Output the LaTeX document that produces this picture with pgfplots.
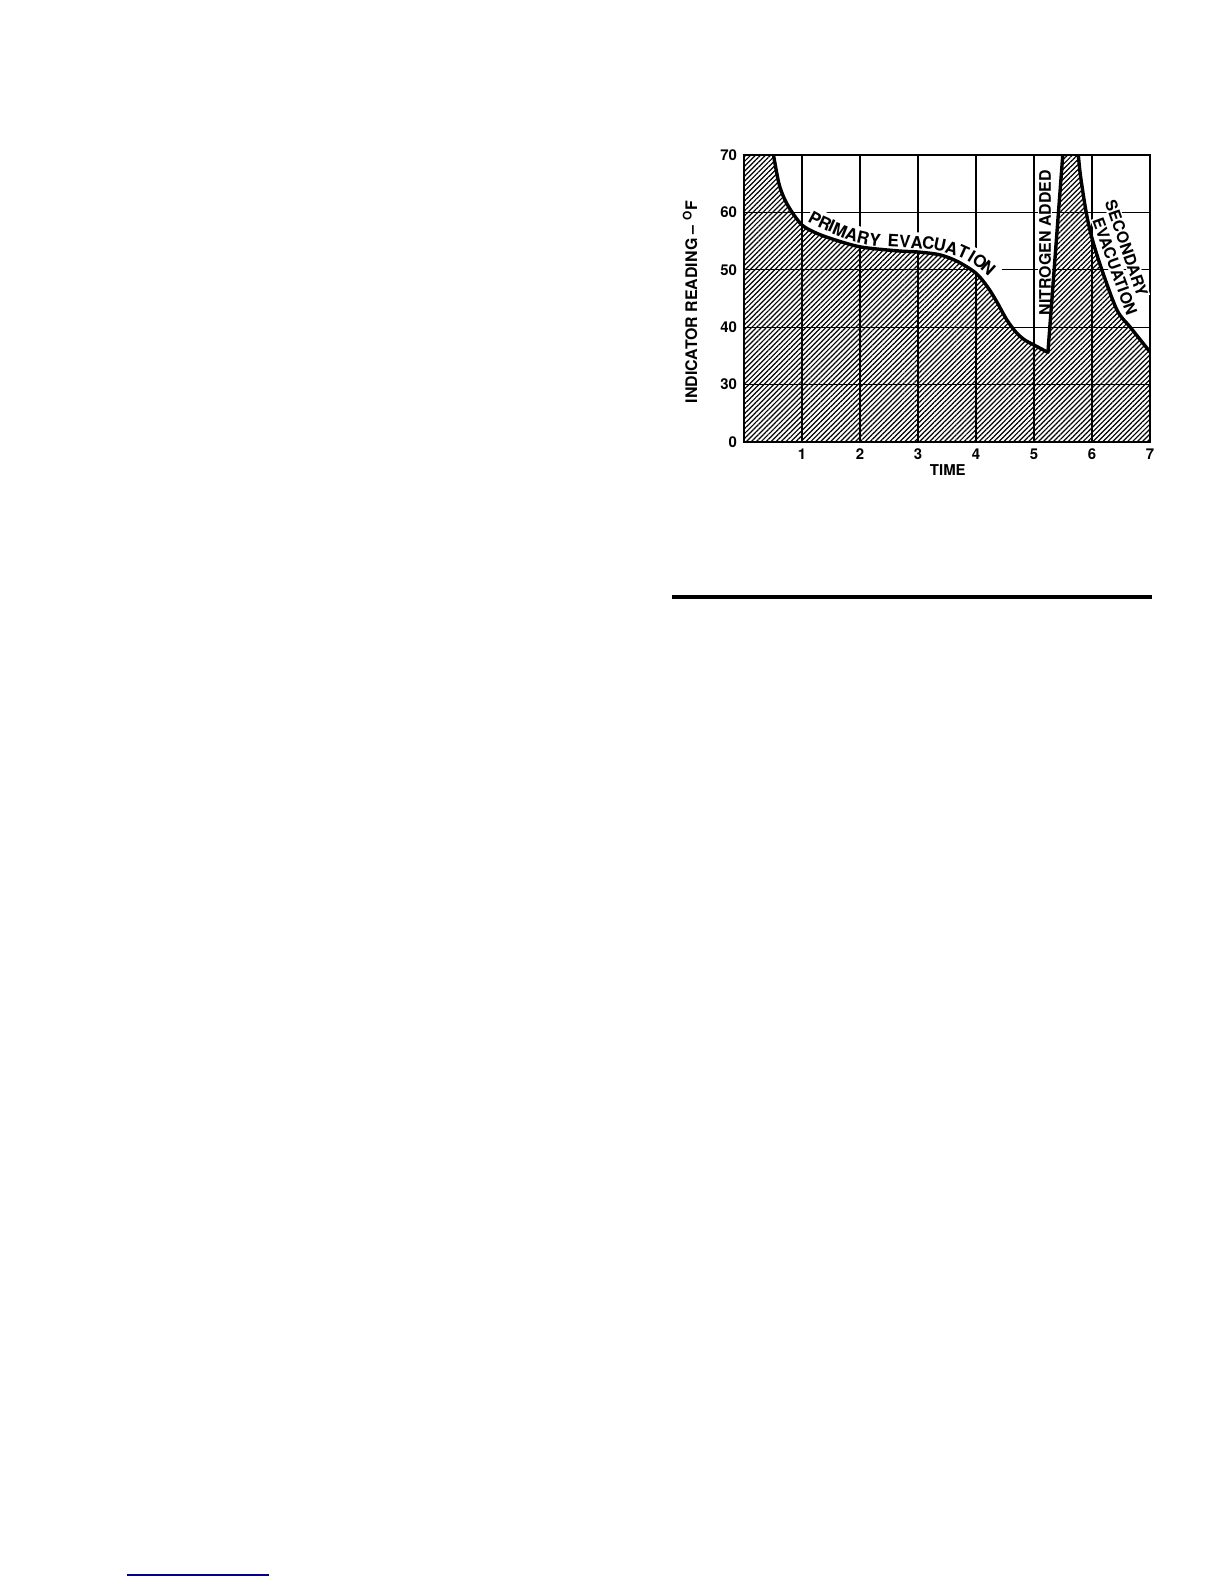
\documentclass[border=0pt]{standalone}
\usepackage{fontspec}
\setmainfont{TeX Gyre Heros}
\usepackage{pgfplots}
\pgfplotsset{compat=1.18}
\usetikzlibrary{patterns.meta,calc}
\tikzset{hatch/.style={pattern={Lines[angle=45,distance=1.75bp,line width=0.6bp]}, draw=none},
  lab/.style={font=\bfseries\fontsize{8}{9}\selectfont, inner sep=0.6bp},
  let/.style={font=\bfseries\fontsize{8.5}{9}\selectfont, inner sep=0pt, text height=6.1bp, text depth=0pt, anchor=center}}
\begin{document}
\begin{tikzpicture}
\useasboundingbox (0,0) rectangle (612bp,792bp);
\draw[line width=1.7bp] (336bp,493.5bp) -- (576bp,493.5bp);
\draw[line width=0.7bp, color={rgb,255:red,0;green,0;blue,140}] (63.5bp,4.5bp) -- (134.5bp,4.5bp);
\begin{axis}[
  name=ax,
  at={(372bp,571bp)}, anchor=south west, scale only axis,
  width=203bp, height=143.5bp,
  xmin=0, xmax=7, ymin=20, ymax=70,
  xtick={1,...,7}, ytick={20,30,...,70},
  yticklabels={0,30,40,50,60,70},
  grid=major, major grid style={black, line width=0.6bp},
  major tick length=0pt,
  axis line style={line width=0.8bp},
  tick label style={font=\bfseries\fontsize{7.5}{8}\selectfont},
  /pgf/number format/assume math mode=true,
]
% white band behind curved label
\addplot[white, line width=10bp, smooth] coordinates {(1.12,59.4) (1.224,58.97) (1.512,57.68) (1.857,56.17) (2.259,55.18) (2.776,54.88) (3.178,54.60) (3.581,53.73) (3.926,52.26) (4.212,50.24) (4.3,49.1)};
% white boxes behind straight labels
\node[lab, rotate=90, fill=white] at (axis cs:5.19,54.7) {\phantom{NITROGEN ADDED}};
\node[lab, rotate=-71, fill=white] at (axis cs:6.595,53.75) {\phantom{SECONDARY}};
\node[lab, rotate=-70, fill=white] at (axis cs:6.395,50.55) {\phantom{EVACUATION}};
% hatched areas
\addplot[hatch] coordinates {(0,70) (0.5,70)} \closedcycle;
\addplot[hatch, smooth] coordinates {(0.5,70.5) (0.6,65.1) (0.7,62.3) (0.83,60) (1.0,57.8) (1.2,56.6) (1.48,55.5) (2.0,54.0) (2.64,53.3) (3.0,53.1) (3.38,52.6) (3.69,51.4) (4.0,49.4) (4.2,47.0) (4.36,44.4) (4.53,41.3) (4.7,39.0) (4.85,37.7) (5.0,36.9) (5.24,35.6)} \closedcycle;
\addplot[hatch] coordinates {(5.24,35.6) (5.5,70.5) (5.76,70.5)} \closedcycle;
\addplot[hatch, smooth] coordinates {(5.76,70.5) (5.8,66.5) (5.9,60) (6.0,55.5) (6.17,50) (6.43,43.0) (6.66,40.0) (6.88,37.2) (7.0,35.7)} \closedcycle;
% curve
\addplot[black, line width=1.7bp, smooth, line cap=round] coordinates {(0.5,70.5) (0.6,65.1) (0.7,62.3) (0.83,60) (1.0,57.8) (1.2,56.6) (1.48,55.5) (2.0,54.0) (2.64,53.3) (3.0,53.1) (3.38,52.6) (3.69,51.4) (4.0,49.4) (4.2,47.0) (4.36,44.4) (4.53,41.3) (4.7,39.0) (4.85,37.7) (5.0,36.9) (5.24,35.6)};
\addplot[black, line width=1.7bp, line cap=round] coordinates {(5.24,35.6) (5.5,70.5)};
\addplot[black, line width=1.7bp, smooth, line cap=round] coordinates {(5.76,70.5) (5.8,66.5) (5.9,60) (6.0,55.5) (6.17,50) (6.43,43.0) (6.66,40.0) (6.88,37.2) (7.0,35.7)};
% labels
\node[lab, rotate=90] at (axis cs:5.19,54.7) {NITROGEN ADDED};
\node[lab, rotate=-71] at (axis cs:6.595,53.75) {SECONDARY};
\node[lab, rotate=-70] at (axis cs:6.395,50.55) {EVACUATION};
% curved label, letter by letter
\node[let, rotate=-28] at (axis cs:1.224,58.97) {P};
\node[let, rotate=-25] at (axis cs:1.397,58.10) {R};
\node[let, rotate=-24] at (axis cs:1.512,57.68) {I};
\node[let, rotate=-22] at (axis cs:1.655,56.93) {M};
\node[let, rotate=-18] at (axis cs:1.857,56.17) {A};
\node[let, rotate=-13] at (axis cs:2.057,55.58) {R};
\node[let, rotate=-7] at (axis cs:2.259,55.18) {Y};
\node[let, rotate=-3] at (axis cs:2.574,55.00) {E};
\node[let, rotate=-2] at (axis cs:2.776,54.88) {V};
\node[let, rotate=-3] at (axis cs:2.978,54.77) {A};
\node[let, rotate=-6] at (axis cs:3.178,54.60) {C};
\node[let, rotate=-12] at (axis cs:3.379,54.30) {U};
\node[let, rotate=-17] at (axis cs:3.581,53.73) {A};
\node[let, rotate=-24] at (axis cs:3.781,53.13) {T};
\node[let, rotate=-31] at (axis cs:3.926,52.26) {I};
\node[let, rotate=-36] at (axis cs:4.069,51.39) {O};
\node[let, rotate=-42] at (axis cs:4.212,50.24) {N};
\end{axis}
% axis titles
\node[rotate=90, font=\bfseries\fontsize{8}{9}\selectfont] at ($(ax.south west)!0.488!(ax.north west) + (-27bp,0)$) {INDICATOR READING -- \textsuperscript{O}F};
\node[font=\bfseries\fontsize{7.5}{8}\selectfont] at ($(ax.south west)!0.502!(ax.south east) + (0,-14bp)$) {TIME};
\end{tikzpicture}
\end{document}
